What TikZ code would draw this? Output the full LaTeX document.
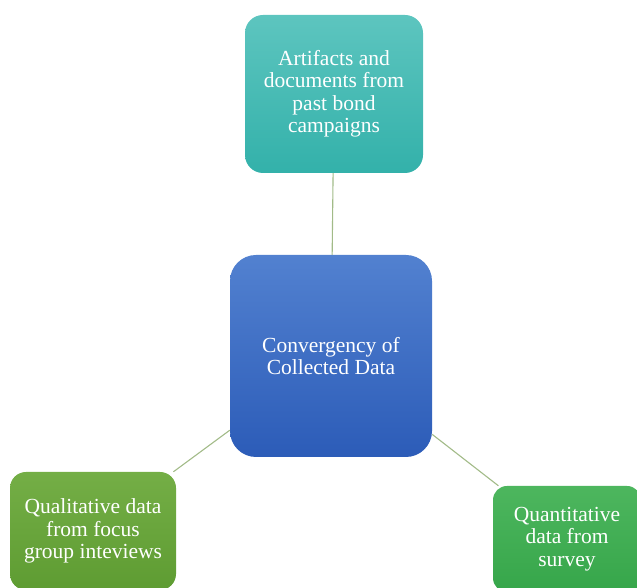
\documentclass[tikz,border=0pt]{standalone}
\usepackage{fontspec}
\setmainfont{Liberation Serif}
\begin{document}
\begin{tikzpicture}[x=1pt,y=1pt,
  box/.style={rounded corners=18pt, inner sep=0pt, align=center, text=white,
    font=\fontsize{21.5}{22.5}\selectfont},
  link/.style={draw=linkc, line width=1.1pt}]
\definecolor{linkc}{HTML}{A2BB88}
\definecolor{tealA}{HTML}{5DC5BF}
\definecolor{tealB}{HTML}{33B1AA}
\definecolor{blueA}{HTML}{5281D0}
\definecolor{blueB}{HTML}{2C5CB8}
\definecolor{greenA}{HTML}{74AE46}
\definecolor{greenB}{HTML}{5E9C32}
\definecolor{grnA}{HTML}{4DB65E}
\definecolor{grnB}{HTML}{36A64A}
\clip (0,0) rectangle (637,588);
\node[box, top color=tealA, bottom color=tealB, minimum width=178pt, minimum height=158pt] (top) at (334,494)
  {Artifacts and\\documents from\\past bond\\campaigns};
\node[box, rounded corners=26pt, top color=blueA, bottom color=blueB, minimum width=202pt, minimum height=202pt] (center) at (331,232)
  {Convergency of\\Collected Data};
\node[box, rounded corners=16pt, top color=greenA, bottom color=greenB, minimum width=166pt, minimum height=118pt] (left) at (93,57)
  {Qualitative data\\from focus\\group inteviews};
\node[box, rounded corners=14pt, top color=grnA, bottom color=grnB, minimum width=148pt, minimum height=106pt] (right) at (567,49)
  {Quantitative\\data from\\survey};
\draw[link] (top) -- (center);
\draw[link] (center) -- (left);
\draw[link] (center) -- (right);
\end{tikzpicture}
\end{document}
